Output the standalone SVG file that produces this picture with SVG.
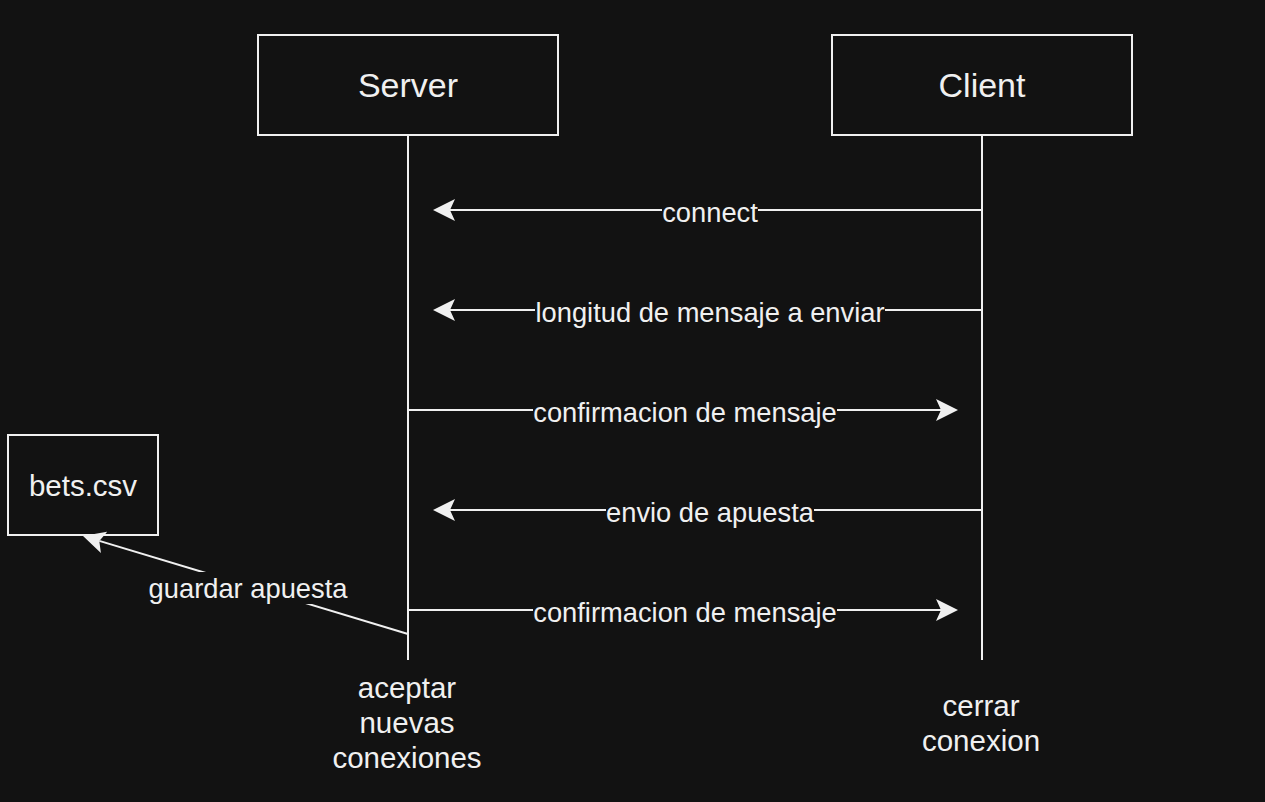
<svg xmlns="http://www.w3.org/2000/svg" width="1265" height="802" viewBox="0 0 1265 802">
<style>
text{font-family:"Liberation Sans",Arial,sans-serif;fill:#f0f0f0}
.box{fill:#121212;stroke:#f0f0f0;stroke-width:2}
.ln{stroke:#f0f0f0;stroke-width:2;fill:none}
.lbl{font-size:27.3px;text-anchor:middle}
.big{font-size:34px;text-anchor:middle}
.mid{font-size:29.5px;text-anchor:middle}
.bg{fill:#121212}
</style>
<defs>
<marker id="arr" markerUnits="userSpaceOnUse" markerWidth="24" markerHeight="24" refX="5" refY="12" orient="auto">
<path d="M22,12 L0,1 L5,12 L0,23 Z" fill="#f0f0f0"/>
</marker>
</defs>
<rect width="1265" height="802" fill="#121212"/>
<g id="server">
<rect class="box" x="258" y="35" width="300" height="100"/>
<text class="big" x="408" y="97">Server</text>
<text class="mid" x="407" y="698">aceptar</text>
<text class="mid" x="407" y="733">nuevas</text>
<text class="mid" x="407" y="768">conexiones</text>
</g>
<g id="client">
<rect class="box" x="832" y="35" width="300" height="100"/>
<text class="big" x="982" y="97">Client</text>
<text class="mid" x="981" y="716">cerrar</text>
<text class="mid" x="981" y="751">conexion</text>
</g>
<g id="bets">
<rect class="box" x="8" y="435" width="150" height="100"/>
<text class="mid" x="83" y="496">bets.csv</text>
</g>
<g id="connectors">
<line class="ln" x1="408" y1="135" x2="408" y2="660"/>
<line class="ln" x1="982" y1="135" x2="982" y2="660"/>
<line class="ln" x1="982" y1="210" x2="450" y2="210" marker-end="url(#arr)"/>
<line class="ln" x1="982" y1="310" x2="450" y2="310" marker-end="url(#arr)"/>
<line class="ln" x1="408" y1="410" x2="941" y2="410" marker-end="url(#arr)"/>
<line class="ln" x1="982" y1="510" x2="450" y2="510" marker-end="url(#arr)"/>
<line class="ln" x1="408" y1="610" x2="941" y2="610" marker-end="url(#arr)"/>
<line class="ln" x1="408" y1="634" x2="99.3" y2="540.9" marker-end="url(#arr)"/>
<rect class="bg" x="662" y="199" width="96" height="27"/>
<text class="lbl" x="710" y="222">connect</text>
<rect class="bg" x="535" y="299" width="350" height="27"/>
<text class="lbl" x="710" y="322">longitud de mensaje a enviar</text>
<rect class="bg" x="533" y="399" width="304" height="27"/>
<text class="lbl" x="685" y="422">confirmacion de mensaje</text>
<rect class="bg" x="606" y="499" width="208" height="27"/>
<text class="lbl" x="710" y="522">envio de apuesta</text>
<rect class="bg" x="533" y="599" width="304" height="27"/>
<text class="lbl" x="685" y="622">confirmacion de mensaje</text>
<rect class="bg" x="147" y="572" width="202" height="32"/>
<text class="lbl" x="248" y="598">guardar apuesta</text>
</g>
</svg>
